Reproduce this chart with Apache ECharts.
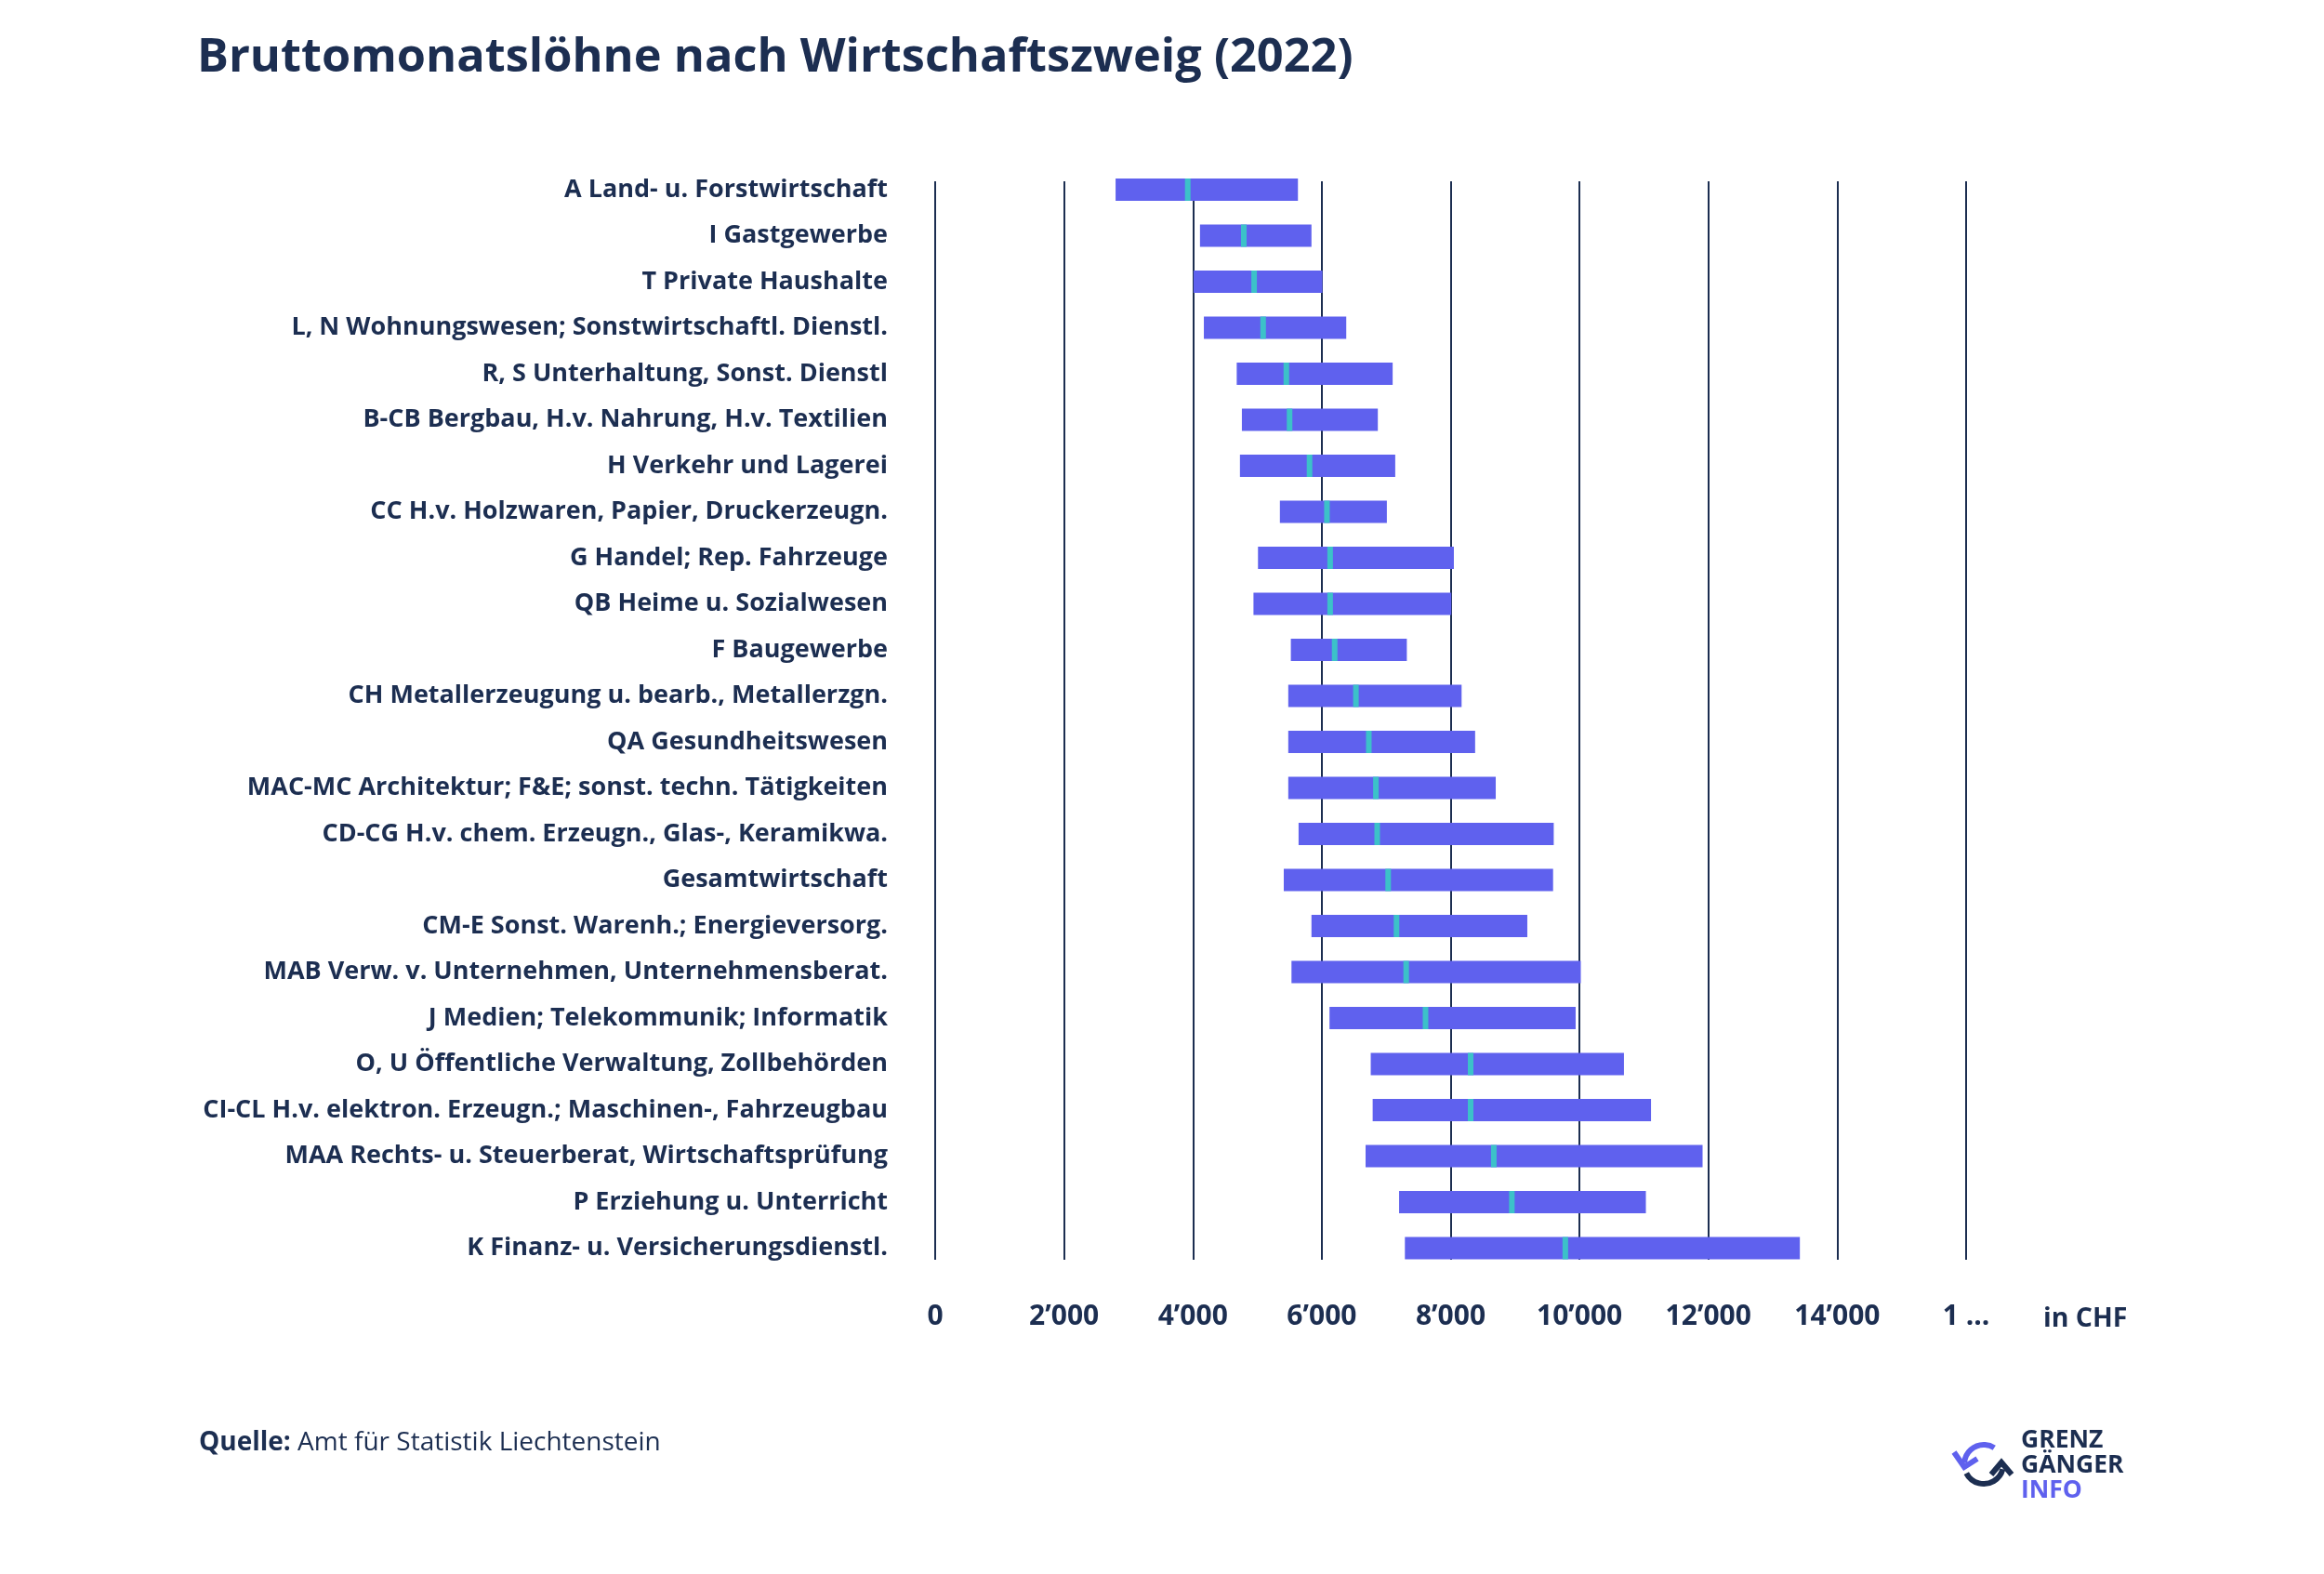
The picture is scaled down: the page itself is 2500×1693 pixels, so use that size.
<!DOCTYPE html>
<html>
<head>
<meta charset="utf-8">
<script src="https://cdn.jsdelivr.net/npm/echarts@6/dist/echarts.min.js"></script>
<style>
html,body{margin:0;padding:0;background:#ffffff;}
#chart{width:2500px;height:1693px;}
</style>
</head>
<body>
<div id="chart"></div>
<script>
const categories = [
  'A Land- u. Forstwirtschaft',
  'I Gastgewerbe',
  'T Private Haushalte',
  'L, N Wohnungswesen; Sonstwirtschaftl. Dienstl.',
  'R, S Unterhaltung, Sonst. Dienstl',
  'B-CB Bergbau, H.v. Nahrung, H.v. Textilien',
  'H Verkehr und Lagerei',
  'CC H.v. Holzwaren, Papier, Druckerzeugn.',
  'G Handel; Rep. Fahrzeuge',
  'QB Heime u. Sozialwesen',
  'F Baugewerbe',
  'CH Metallerzeugung u. bearb., Metallerzgn.',
  'QA Gesundheitswesen',
  'MAC-MC Architektur; F&E; sonst. techn. Tätigkeiten',
  'CD-CG H.v. chem. Erzeugn., Glas-, Keramikwa.',
  'Gesamtwirtschaft',
  'CM-E Sonst. Warenh.; Energieversorg.',
  'MAB Verw. v. Unternehmen, Unternehmensberat.',
  'J Medien; Telekommunik; Informatik',
  'O, U Öffentliche Verwaltung, Zollbehörden',
  'CI-CL H.v. elektron. Erzeugn.; Maschinen-, Fahrzeugbau',
  'MAA Rechts- u. Steuerberat, Wirtschaftsprüfung',
  'P Erziehung u. Unterricht',
  'K Finanz- u. Versicherungsdienstl.'
];
const q1 = [2800, 4110, 4010, 4170, 4680, 4760, 4730, 5350, 5010, 4940, 5520, 5480, 5480, 5480, 5640, 5410, 5840, 5530, 6120, 6760, 6790, 6680, 7200, 7290];
const median = [3920, 4790, 4950, 5090, 5450, 5500, 5810, 6080, 6130, 6130, 6200, 6530, 6730, 6840, 6860, 7030, 7160, 7310, 7610, 8310, 8310, 8670, 8950, 9780];
const q3 = [5630, 5840, 6010, 6380, 7100, 6870, 7140, 7010, 8050, 8010, 7320, 8170, 8380, 8700, 9600, 9590, 9190, 10020, 9940, 10690, 11110, 11910, 11030, 13420];
const tickLabels = ['0', '2’000', '4’000', '6’000', '8’000', '10’000', '12’000', '14’000', '1 ...'];

const NAVY = '#1c2e51';
const BAR = '#5f61ee';
const MED = '#3cc1c9';
const FONT = 'Open Sans';

const chart = echarts.init(document.getElementById('chart'), null, {renderer: 'canvas'});

const seriesData = categories.map((c, i) => [i, q1[i], median[i], q3[i]]);

const option = {
  backgroundColor: '#ffffff',
  animation: false,
  textStyle: {fontFamily: FONT, color: NAVY},
  title: {
    text: 'Bruttomonatslöhne nach Wirtschaftszweig (2022)',
    left: 207, top: 32,
    textStyle: {fontFamily: FONT, fontWeight: 'bold', fontSize: 50.5, color: NAVY}
  },
  grid: [
    {left: 1006, right: 385, top: 179.25, bottom: 325.75},
    {left: 1006, right: 385, top: 195, bottom: 338}
  ],
  xAxis: [
    {gridIndex: 0, type: 'value', min: 0, max: 16000, interval: 2000, show: false},
    {
      gridIndex: 1, type: 'value', min: 0, max: 16000, interval: 2000,
      axisLine: {show: false}, axisTick: {show: false},
      splitLine: {show: true, lineStyle: {color: NAVY, width: 2}},
      axisLabel: {
        margin: 61, verticalAlign: 'middle',
        fontFamily: FONT, fontWeight: 'bold', fontSize: 30, color: NAVY,
        formatter: v => tickLabels[Math.round(v / 2000)]
      }
    }
  ],
  yAxis: [
    {
      gridIndex: 0, type: 'category', data: categories, inverse: true,
      axisLine: {show: false}, axisTick: {show: false}, splitLine: {show: false},
      axisLabel: {margin: 51, fontFamily: FONT, fontWeight: 'bold', fontSize: 27, color: NAVY}
    },
    {gridIndex: 1, type: 'value', min: 0, max: 1, show: false}
  ],
  series: [{
    type: 'custom',
    xAxisIndex: 0, yAxisIndex: 0,
    data: seriesData,
    encode: {y: 0, x: [1, 2, 3]},
    renderItem: function (params, api) {
      const cat = api.value(0);
      const s = api.coord([api.value(1), cat]);
      const m = api.coord([api.value(2), cat]);
      const e = api.coord([api.value(3), cat]);
      const h = api.size([0, 1])[1] * 0.485;
      return {
        type: 'group',
        children: [
          {type: 'rect', shape: {x: s[0], y: s[1] - h / 2, width: e[0] - s[0], height: h}, style: {fill: BAR}},
          {type: 'rect', shape: {x: m[0] - 3, y: m[1] - h / 2, width: 6, height: h}, style: {fill: MED}}
        ]
      };
    }
  }],
  graphic: [
    {
      type: 'text', left: 2198, top: 1404,
      style: {text: 'in CHF', fontFamily: FONT, fontWeight: 'bold', fontSize: 28.5, fill: NAVY}
    },
    {
      type: 'text', left: 214, top: 1538,
      style: {
        text: '{b|Quelle:} Amt für Statistik Liechtenstein',
        rich: {b: {fontFamily: FONT, fontWeight: 'bold', fontSize: 28, fill: NAVY}},
        fontFamily: FONT, fontSize: 28, fill: NAVY
      }
    },
    // logo text
    {type: 'text', left: 2174, top: 1536, style: {text: 'GRENZ', fontFamily: FONT, fontWeight: 'bold', fontSize: 26.5, fill: NAVY}},
    {type: 'text', left: 2174, top: 1563, style: {text: 'GÄNGER', fontFamily: FONT, fontWeight: 'bold', fontSize: 26.5, fill: NAVY}},
    {type: 'text', left: 2174, top: 1590, style: {text: 'INFO', fontFamily: FONT, fontWeight: 'bold', fontSize: 26.5, fill: BAR}},
    // logo icon
    {type: 'arc', shape: {cx: 2134, cy: 1575, r: 21, startAngle: Math.PI * 1.02, endAngle: Math.PI * 1.68}, style: {stroke: BAR, lineWidth: 6, fill: null}},
    {type: 'polyline', shape: {points: [[2102, 1562], [2113, 1578], [2127, 1569]]}, style: {stroke: BAR, lineWidth: 6, fill: null}},
    {type: 'arc', shape: {cx: 2134, cy: 1575, r: 21, startAngle: Math.PI * 0.08, endAngle: Math.PI * 0.85}, style: {stroke: NAVY, lineWidth: 6, fill: null}},
    {type: 'polyline', shape: {points: [[2142, 1586], [2153, 1573], [2164, 1586]]}, style: {stroke: NAVY, lineWidth: 6, fill: null}}
  ]
};
chart.setOption(option);
</script>
</body>
</html>
